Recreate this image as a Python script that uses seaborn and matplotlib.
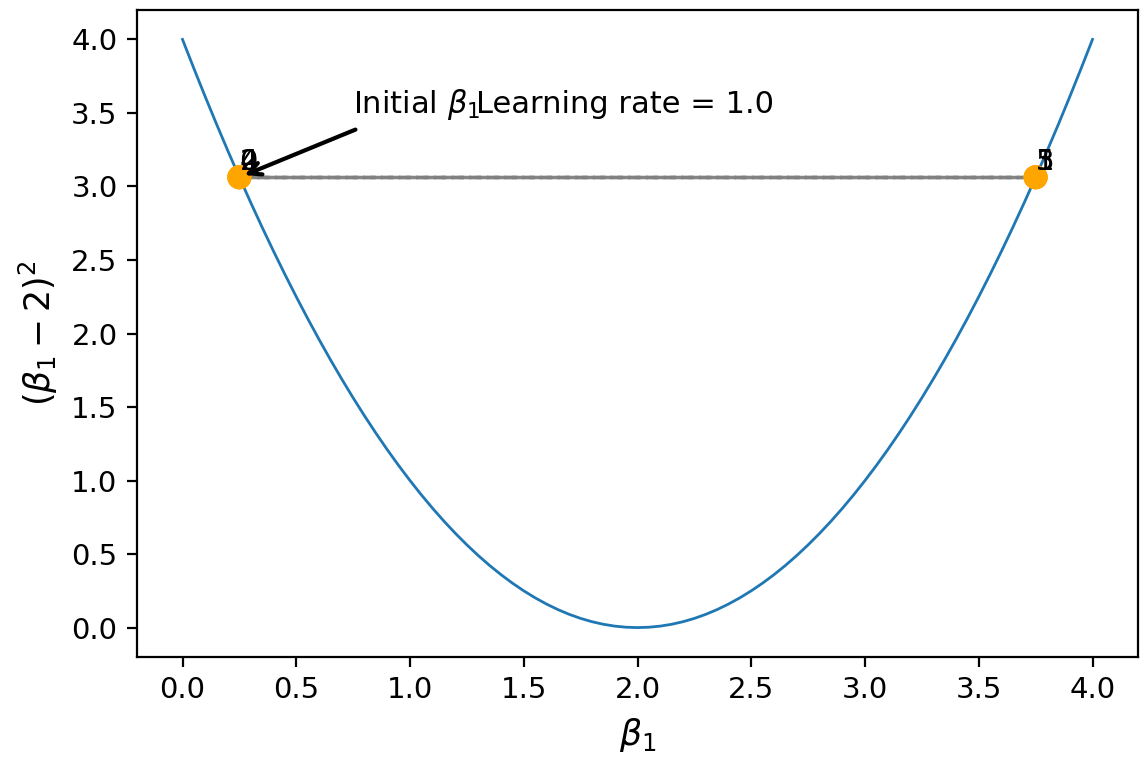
import matplotlib
matplotlib.use("Agg")
import matplotlib.pyplot as plt
import seaborn as sns
import pandas as pd

# Loss curve samples
curve_x = [0.00, 0.05, 0.10, 0.15, 0.20, 0.25, 0.30, 0.35, 0.40, 0.45,
           0.50, 0.55, 0.60, 0.65, 0.70, 0.75, 0.80, 0.85, 0.90, 0.95,
           1.00, 1.05, 1.10, 1.15, 1.20, 1.25, 1.30, 1.35, 1.40, 1.45,
           1.50, 1.55, 1.60, 1.65, 1.70, 1.75, 1.80, 1.85, 1.90, 1.95,
           2.00, 2.05, 2.10, 2.15, 2.20, 2.25, 2.30, 2.35, 2.40, 2.45,
           2.50, 2.55, 2.60, 2.65, 2.70, 2.75, 2.80, 2.85, 2.90, 2.95,
           3.00, 3.05, 3.10, 3.15, 3.20, 3.25, 3.30, 3.35, 3.40, 3.45,
           3.50, 3.55, 3.60, 3.65, 3.70, 3.75, 3.80, 3.85, 3.90, 3.95, 4.00]
curve_y = [4.0000, 3.8025, 3.6100, 3.4225, 3.2400, 3.0625, 2.8900, 2.7225, 2.5600, 2.4025,
           2.2500, 2.1025, 1.9600, 1.8225, 1.6900, 1.5625, 1.4400, 1.3225, 1.2100, 1.1025,
           1.0000, 0.9025, 0.8100, 0.7225, 0.6400, 0.5625, 0.4900, 0.4225, 0.3600, 0.3025,
           0.2500, 0.2025, 0.1600, 0.1225, 0.0900, 0.0625, 0.0400, 0.0225, 0.0100, 0.0025,
           0.0000, 0.0025, 0.0100, 0.0225, 0.0400, 0.0625, 0.0900, 0.1225, 0.1600, 0.2025,
           0.2500, 0.3025, 0.3600, 0.4225, 0.4900, 0.5625, 0.6400, 0.7225, 0.8100, 0.9025,
           1.0000, 1.1025, 1.2100, 1.3225, 1.4400, 1.5625, 1.6900, 1.8225, 1.9600, 2.1025,
           2.2500, 2.4025, 2.5600, 2.7225, 2.8900, 3.0625, 3.2400, 3.4225, 3.6100, 3.8025, 4.0000]

# Gradient descent iterates (learning rate 1.0, oscillating)
step_labels = ["0", "1", "2", "3", "4", "5"]
step_beta = [0.25, 3.75, 0.25, 3.75, 0.25, 3.75]
step_loss = [3.0625, 3.0625, 3.0625, 3.0625, 3.0625, 3.0625]

learning_rate_text = "Learning rate = 1.0"

fig = plt.figure(figsize=(5.74, 3.785), dpi=200)
ax = fig.add_axes([137/1148, 1 - 657/757, (1138 - 137)/1148, (657 - 10)/757])

curve = pd.DataFrame({"x": curve_x, "y": curve_y})
sns.lineplot(data=curve, x="x", y="y", ax=ax, color="#1f77b4", lw=1.0, sort=False)

for i in range(len(step_beta) - 1):
    ax.plot(step_beta[i:i+2], step_loss[i:i+2], "--", color="gray", lw=1.2, alpha=0.8, zorder=2)

steps = pd.DataFrame({"b": step_beta, "l": step_loss})
sns.scatterplot(data=steps, x="b", y="l", ax=ax, color="orange", s=75,
                edgecolor="none", zorder=3)

for lab, b, l in zip(step_labels, step_beta, step_loss):
    ax.text(b, l + 0.05, lab, fontsize=10.5, zorder=4)

ax.annotate(r"Initial $\beta_1$", xy=(step_beta[0], step_loss[0]), xytext=(0.75, 3.5),
            fontsize=11, arrowprops=dict(arrowstyle="->", lw=1.5, color="black"))
ax.text(1.29, 3.5, learning_rate_text, fontsize=11)

ax.set_xlabel(r"$\beta_1$", fontsize=12.5)
ax.set_ylabel(r"$(\beta_1 - 2)^2$", fontsize=12.5)
ax.set_xticks([0.0, 0.5, 1.0, 1.5, 2.0, 2.5, 3.0, 3.5, 4.0])
ax.set_yticks([0.0, 0.5, 1.0, 1.5, 2.0, 2.5, 3.0, 3.5, 4.0])
ax.tick_params(labelsize=10.5)
ax.set_xlim(-0.2, 4.2)
ax.set_ylim(-0.2, 4.2)

fig.savefig("out.png", dpi=200)
